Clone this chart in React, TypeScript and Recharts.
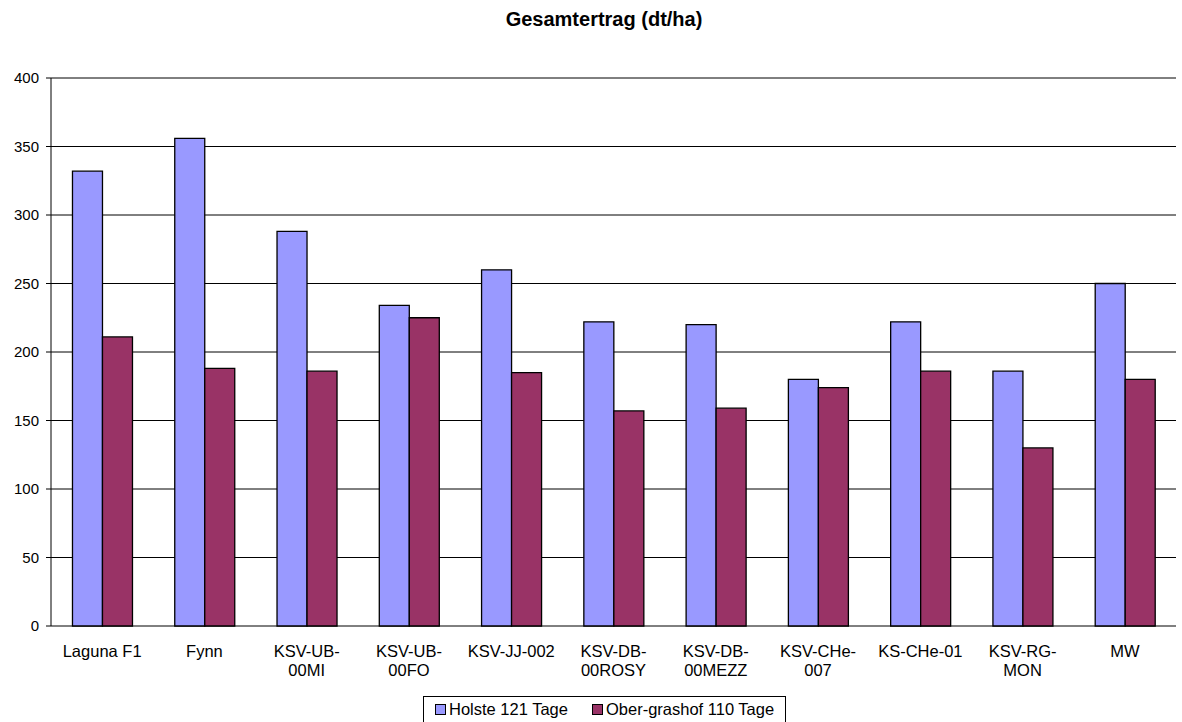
import { Bar, BarChart, CartesianGrid, XAxis, YAxis } from "recharts";

const categories = [
  "Laguna F1",
  "Fynn",
  "KSV-UB-00MI",
  "KSV-UB-00FO",
  "KSV-JJ-002",
  "KSV-DB-00ROSY",
  "KSV-DB-00MEZZ",
  "KSV-CHe-007",
  "KS-CHe-01",
  "KSV-RG-MON",
  "MW",
];

// how the x labels wrap in the original
const tickLines = [
  ["Laguna F1"],
  ["Fynn"],
  ["KSV-UB-", "00MI"],
  ["KSV-UB-", "00FO"],
  ["KSV-JJ-002"],
  ["KSV-DB-", "00ROSY"],
  ["KSV-DB-", "00MEZZ"],
  ["KSV-CHe-", "007"],
  ["KS-CHe-01"],
  ["KSV-RG-", "MON"],
  ["MW"],
];

const holste = [332, 356, 288, 234, 260, 222, 220, 180, 222, 186, 250];
const obergrashof = [211, 188, 186, 225, 185, 157, 159, 174, 186, 130, 180];

const yTicks = [0, 50, 100, 150, 200, 250, 300, 350, 400];
const boundaryTicks = [0, 1, 2, 3, 4, 5, 6, 7, 8, 9, 10, 11];

const FONT = '"Liberation Sans", Arial, Helvetica, sans-serif';
const BLUE = "#9999ff";
const RED = "#993366";

const data = categories.map((name, i) => ({
  name,
  holste: holste[i],
  ober: obergrashof[i],
}));

function CatTick(props: any) {
  const { x, y, payload } = props;
  const lines = tickLines[payload.index] ?? [payload.value];
  return (
    <text x={x} y={y} textAnchor="middle" fill="#000" fontSize={16.5} fontFamily={FONT}>
      {lines.map((l, i) => (
        <tspan key={i} x={x} dy={i === 0 ? 31 : 18.5}>
          {l}
        </tspan>
      ))}
    </text>
  );
}

function LegendSwatch({ color }: { color: string }) {
  return (
    <span
      style={{
        display: "inline-block",
        width: 9,
        height: 9,
        background: color,
        border: "1px solid #000",
        marginRight: 3,
      }}
    />
  );
}

export default function App() {
  return (
    <div
      style={{
        position: "absolute",
        left: 0,
        top: 0,
        width: 1182,
        height: 722,
        background: "#fff",
        fontFamily: FONT,
        overflow: "hidden",
      }}
    >
      <div
        style={{
          position: "absolute",
          top: 8,
          left: 0,
          width: 1208,
          textAlign: "center",
          fontWeight: "bold",
          fontSize: 20,
          color: "#000",
        }}
      >
        Gesamtertrag (dt/ha)
      </div>
      <BarChart
        width={1182}
        height={722}
        data={data}
        margin={{ top: 78, right: 6, bottom: 0, left: 0 }}
        barCategoryGap="21%"
        barGap={0}
      >
        <CartesianGrid
          yAxisId="y"
          xAxisId="cat"
          vertical={false}
          stroke="#000"
          strokeWidth={1}
        />
        <XAxis
          xAxisId="bounds"
          type="number"
          domain={[0, 11]}
          ticks={boundaryTicks}
          height={0}
          tickSize={5}
          tickFormatter={() => ""}
          axisLine={{ stroke: "#000", strokeWidth: 1 }}
          tickLine={{ stroke: "#000" }}
        />
        <XAxis
          xAxisId="cat"
          dataKey="name"
          height={96}
          axisLine={false}
          tickLine={false}
          tickSize={0}
          tickMargin={0}
          interval={0}
          tick={<CatTick />}
        />
        <YAxis
          yAxisId="y"
          width={51}
          domain={[0, 400]}
          ticks={yTicks}
          tickSize={5}
          tickMargin={7}
          axisLine={{ stroke: "#000", strokeWidth: 1 }}
          tickLine={{ stroke: "#000" }}
          tick={{ fill: "#000", fontSize: 15, fontFamily: FONT }}
        />
        <Bar
          xAxisId="cat"
          yAxisId="y"
          dataKey="holste"
          name="Holste 121 Tage"
          fill={BLUE}
          stroke="#000"
          strokeWidth={1.3}
          isAnimationActive={false}
        />
        <Bar
          xAxisId="cat"
          yAxisId="y"
          dataKey="ober"
          name="Ober-grashof 110 Tage"
          fill={RED}
          stroke="#000"
          strokeWidth={1.3}
          isAnimationActive={false}
        />
      </BarChart>
      <div
        style={{
          position: "absolute",
          left: 423,
          top: 696,
          width: 363,
          height: 30,
          border: "1px solid #000",
          fontSize: 16.5,
          color: "#000",
          display: "flex",
          alignItems: "flex-start",
          paddingTop: 3,
          boxSizing: "border-box",
          whiteSpace: "nowrap",
        }}
      >
        <span style={{ display: "flex", alignItems: "center", marginLeft: 11 }}>
          <LegendSwatch color={BLUE} />
          Holste 121 Tage
        </span>
        <span style={{ display: "flex", alignItems: "center", marginLeft: 24 }}>
          <LegendSwatch color={RED} />
          Ober-grashof 110 Tage
        </span>
      </div>
    </div>
  );
}
